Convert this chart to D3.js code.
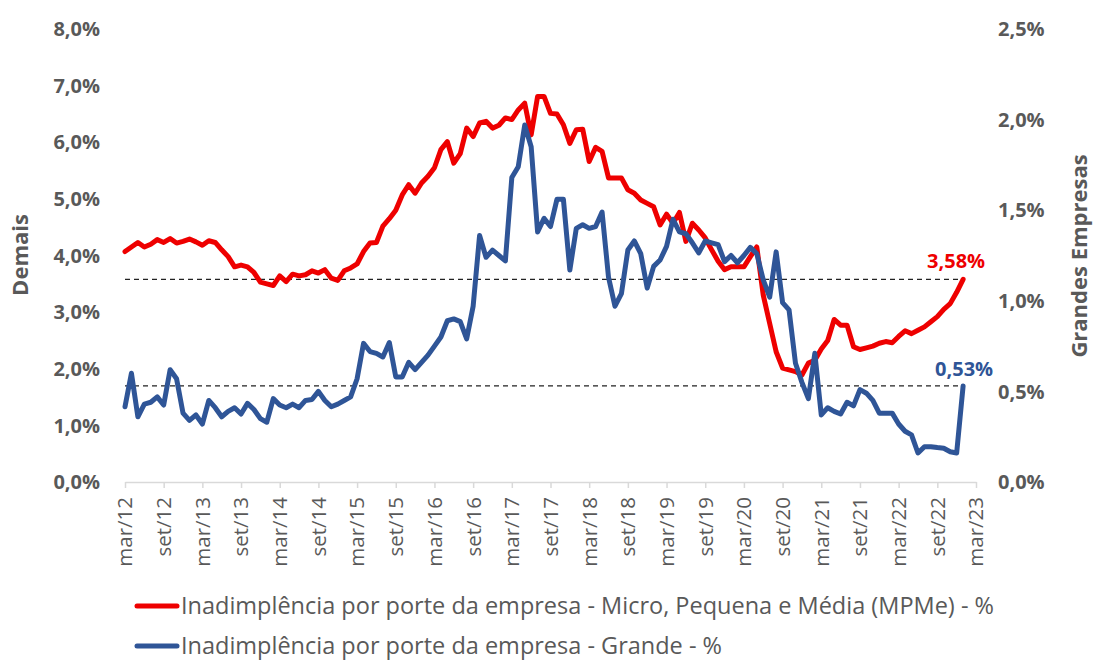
<!DOCTYPE html>
<html>
<head>
<meta charset="utf-8">
<script src="https://cdn.jsdelivr.net/npm/d3@7"></script>
<style>
  body { margin: 0; background: #fff; }
  svg { display: block; }
</style>
</head>
<body>
<div id="chart"></div>
<script>
// Month labels (mar/12 .. jan/23), one per data point
const monthNames = ["jan","fev","mar","abr","mai","jun","jul","ago","set","out","nov","dez"];
const periods = d3.range(131).map(i => {
  const m = (2 + i) % 12;
  const y = 12 + Math.floor((2 + i) / 12);
  return monthNames[m] + "/" + y;
});

// Tick labels every 6 months
const tickLabels = ["mar/12","set/12","mar/13","set/13","mar/14","set/14","mar/15","set/15",
  "mar/16","set/16","mar/17","set/17","mar/18","set/18","mar/19","set/19","mar/20","set/20",
  "mar/21","set/21","mar/22","set/22","mar/23"];

// Inadimplência MPMe (%), left axis
const mpme = [
  4.07,4.15,4.23,4.15,4.20,4.28,4.23,4.30,4.22,4.25,4.29,4.24,
  4.18,4.26,4.23,4.10,3.98,3.80,3.83,3.80,3.70,3.53,3.50,3.47,
  3.64,3.54,3.67,3.64,3.66,3.73,3.69,3.75,3.60,3.56,3.73,3.78,
  3.85,4.07,4.22,4.23,4.52,4.65,4.80,5.07,5.25,5.10,5.28,5.40,
  5.55,5.87,6.01,5.63,5.80,6.25,6.10,6.34,6.37,6.25,6.30,6.43,
  6.40,6.57,6.69,6.13,6.81,6.81,6.51,6.50,6.31,5.98,6.22,6.23,
  5.66,5.91,5.84,5.37,5.37,5.37,5.16,5.10,4.98,4.92,4.86,4.54,
  4.73,4.57,4.76,4.25,4.57,4.45,4.31,4.10,3.90,3.75,3.80,3.80,
  3.80,3.98,4.15,3.30,2.80,2.30,2.01,1.98,1.95,1.89,2.10,2.15,
  2.35,2.50,2.87,2.77,2.77,2.39,2.34,2.37,2.40,2.45,2.48,2.46,
  2.57,2.67,2.62,2.68,2.74,2.83,2.92,3.05,3.15,3.35,3.58
];

// Inadimplência Grandes empresas (%), right axis
const grande = [
  0.415,0.60,0.36,0.43,0.44,0.47,0.425,0.62,0.57,0.38,0.34,0.37,
  0.32,0.45,0.41,0.36,0.39,0.41,0.375,0.434,0.40,0.35,0.33,0.46,
  0.425,0.41,0.43,0.41,0.45,0.455,0.50,0.45,0.415,0.43,0.45,0.47,
  0.57,0.765,0.72,0.71,0.69,0.77,0.58,0.58,0.66,0.62,0.66,0.70,
  0.75,0.80,0.89,0.90,0.885,0.79,0.97,1.36,1.24,1.28,1.25,1.22,
  1.68,1.74,1.97,1.85,1.38,1.455,1.41,1.56,1.56,1.17,1.40,1.42,
  1.40,1.41,1.49,1.13,0.97,1.04,1.28,1.33,1.26,1.07,1.19,1.225,
  1.30,1.45,1.38,1.37,1.32,1.265,1.33,1.32,1.31,1.216,1.25,1.21,
  1.25,1.295,1.26,1.115,1.02,1.27,0.99,0.95,0.655,0.55,0.46,0.71,
  0.37,0.41,0.39,0.375,0.44,0.42,0.51,0.49,0.45,0.38,0.38,0.38,
  0.32,0.28,0.26,0.16,0.195,0.195,0.19,0.186,0.167,0.16,0.53
];

const leftTicks = [0,1,2,3,4,5,6,7,8];
const rightTicks = [0,0.5,1,1.5,2,2.5];

const legendLabels = [
  "Inadimplência por porte da empresa - Micro, Pequena e Média (MPMe) - %",
  "Inadimplência por porte da empresa - Grande - %"
];

const red = "#ee0000";
const blue = "#2f5597";
const gray = "#595959";
const font = "'Open Sans', Lato, sans-serif";

const W = 1095, H = 660;
const svg = d3.select("#chart").append("svg")
  .attr("width", W).attr("height", H);

// Scales
const x = d3.scaleLinear().domain([0, 132]).range([125, 976]);
const yL = d3.scaleLinear().domain([0, 8]).range([482, 29]);
const yR = d3.scaleLinear().domain([0, 2.5]).range([482, 29]);

// Left axis labels
svg.append("g").selectAll("text")
  .data(leftTicks).enter().append("text")
  .attr("x", 100)
  .attr("y", d => yL(d))
  .attr("dy", "0.36em")
  .attr("text-anchor", "end")
  .attr("font-family", font)
  .attr("font-weight", "bold")
  .attr("font-size", 20)
  .attr("fill", gray)
  .text(d => d3.format(".1f")(d).replace(".", ",") + "%");

// Right axis labels
svg.append("g").selectAll("text")
  .data(rightTicks).enter().append("text")
  .attr("x", 998)
  .attr("y", d => yR(d))
  .attr("dy", "0.36em")
  .attr("text-anchor", "start")
  .attr("font-family", font)
  .attr("font-weight", "bold")
  .attr("font-size", 20)
  .attr("fill", gray)
  .text(d => d3.format(".1f")(d).replace(".", ",") + "%");

// Axis titles
svg.append("text")
  .attr("transform", "translate(28,255) rotate(-90)")
  .attr("text-anchor", "middle")
  .attr("font-family", font)
  .attr("font-weight", "bold")
  .attr("font-size", 22)
  .attr("fill", gray)
  .text("Demais");

svg.append("text")
  .attr("transform", "translate(1087,256) rotate(-90)")
  .attr("text-anchor", "middle")
  .attr("font-family", font)
  .attr("font-weight", "bold")
  .attr("font-size", 22)
  .attr("fill", gray)
  .text("Grandes Empresas");

// X axis
const xAxis = d3.axisBottom(x)
  .tickValues(tickLabels.map((d, i) => i * 6))
  .tickSize(6)
  .tickSizeOuter(0)
  .tickFormat("");

const gx = svg.append("g")
  .attr("transform", "translate(0,482)")
  .call(xAxis);
gx.select(".domain").attr("stroke", "#d9d9d9").attr("stroke-width", 1.5);
gx.selectAll(".tick line").attr("stroke", "#d9d9d9").attr("stroke-width", 1.5);

svg.append("g").selectAll("text")
  .data(tickLabels).enter().append("text")
  .attr("transform", (d, i) => `translate(${x(i * 6)},497) rotate(-90)`)
  .attr("dy", "0.36em")
  .attr("text-anchor", "end")
  .attr("font-family", font)
  .attr("font-weight", 500)
  .attr("font-size", 20.5)
  .attr("fill", gray)
  .text(d => d);

// Reference lines at last values
const lastIdx = mpme.length - 1;
svg.append("line")
  .attr("x1", x(0)).attr("x2", x(lastIdx))
  .attr("y1", yL(mpme[lastIdx])).attr("y2", yL(mpme[lastIdx]))
  .attr("stroke", "#222").attr("stroke-width", 1.3)
  .attr("stroke-dasharray", "5,4");

svg.append("line")
  .attr("x1", x(0)).attr("x2", x(lastIdx))
  .attr("y1", yR(grande[lastIdx])).attr("y2", yR(grande[lastIdx]))
  .attr("stroke", "#222").attr("stroke-width", 1.3)
  .attr("stroke-dasharray", "5,4");

// Series lines
const lineL = d3.line().x((d, i) => x(i)).y(d => yL(d));
const lineR = d3.line().x((d, i) => x(i)).y(d => yR(d));

svg.append("path")
  .datum(mpme)
  .attr("d", lineL)
  .attr("fill", "none")
  .attr("stroke", red)
  .attr("stroke-width", 5)
  .attr("stroke-linejoin", "round")
  .attr("stroke-linecap", "round");

svg.append("path")
  .datum(grande)
  .attr("d", lineR)
  .attr("fill", "none")
  .attr("stroke", blue)
  .attr("stroke-width", 5)
  .attr("stroke-linejoin", "round")
  .attr("stroke-linecap", "round");

// Last value labels
const pct = v => d3.format(".2f")(v).replace(".", ",") + "%";
svg.append("text")
  .attr("x", x(lastIdx) - 7)
  .attr("y", yL(mpme[lastIdx]) - 11)
  .attr("text-anchor", "middle")
  .attr("font-family", font)
  .attr("font-weight", "bold")
  .attr("font-size", 20)
  .attr("fill", red)
  .text(pct(mpme[lastIdx]));

svg.append("text")
  .attr("x", x(lastIdx) + 1)
  .attr("y", yR(grande[lastIdx]) - 10)
  .attr("text-anchor", "middle")
  .attr("font-family", font)
  .attr("font-weight", "bold")
  .attr("font-size", 20)
  .attr("fill", blue)
  .text(pct(grande[lastIdx]));

// Legend
const legend = svg.append("g");
[red, blue].forEach((c, i) => {
  const ly = 606 + i * 40;
  legend.append("line")
    .attr("x1", 137).attr("x2", 177)
    .attr("y1", ly).attr("y2", ly)
    .attr("stroke", c).attr("stroke-width", 5)
    .attr("stroke-linecap", "round");
  legend.append("text")
    .attr("x", 181)
    .attr("y", ly + 8)
    .attr("font-family", font)
    .attr("font-weight", 500)
    .attr("font-size", 23.5)
    .attr("fill", gray)
    .text(legendLabels[i]);
});
</script>
</body>
</html>
